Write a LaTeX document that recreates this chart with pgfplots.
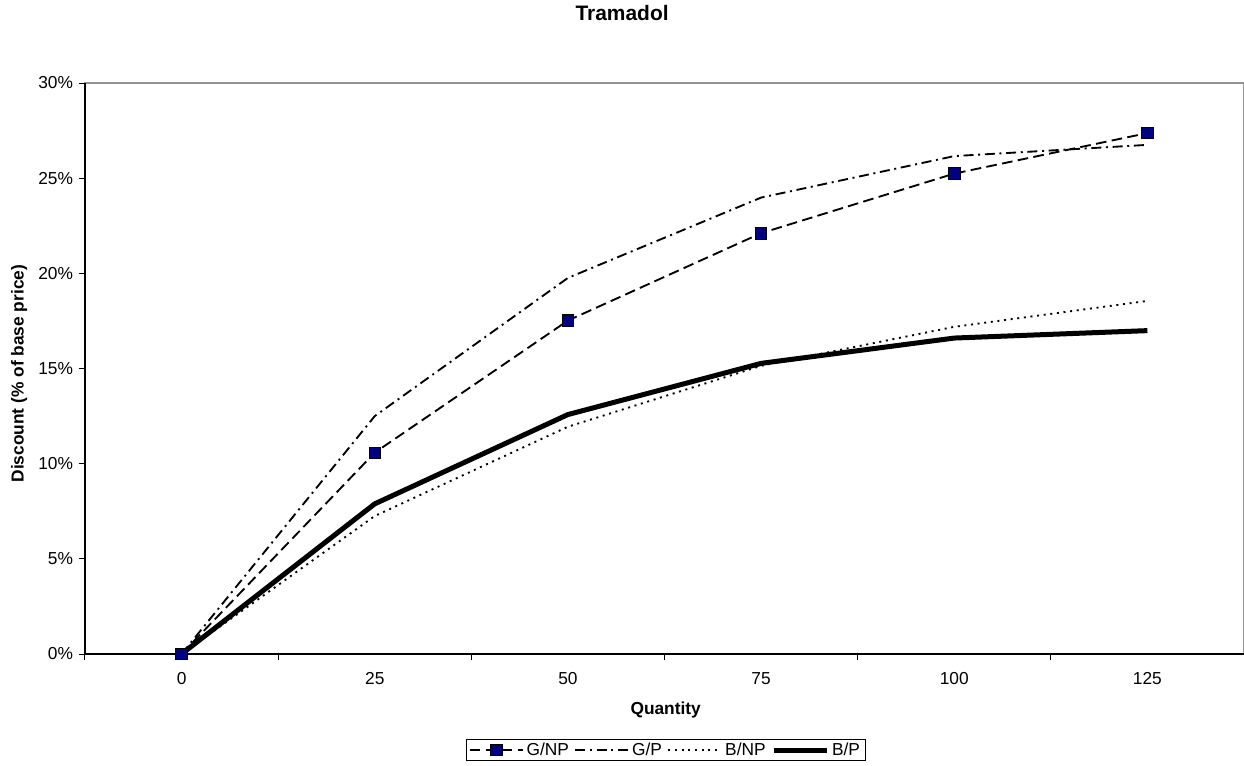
\documentclass[border=0pt]{standalone}
\usepackage{fontspec}
\setmainfont{Liberation Sans}
\usepackage{pgfplots}
\pgfplotsset{compat=1.18}
\definecolor{navyblue}{HTML}{000080}
\begin{document}
\begin{tikzpicture}[x=1pt,y=1pt]
\useasboundingbox (-63.75,-83.25) rectangle (869.25,490.5);
\begin{axis}[
  at={(0pt,0pt)}, anchor=south west,
  scale only axis, width=869.25pt, height=428.25pt,
  xmin=-0.5, xmax=5.5, ymin=0, ymax=30,
  clip=false,
  xtick={-0.5,0.5,1.5,2.5,3.5,4.5,5.5},
  xticklabels={},
  extra x ticks={0,1,2,3,4,5},
  extra x tick labels={0,25,50,75,100,125},
  extra x tick style={major tick length=0pt},
  ytick={0,5,10,15,20,25,30},
  yticklabels={0\%,5\%,10\%,15\%,20\%,25\%,30\%},
  tick align=outside, xtick pos=left, ytick pos=left,
  major tick length=4.5pt,
  every tick/.style={black, line width=0.75pt},
  axis line style={draw=gray!85, line width=0.9pt},
  tick label style={font=\fontsize{13}{15}\selectfont},
  xticklabel style={yshift=-10.5pt},
  yticklabel style={xshift=-1pt},
  title={Tramadol},
  title style={font=\bfseries\fontsize{15.7}{18}\selectfont, at={(axis description cs:0.4634,1.1086)}, anchor=center},
  xlabel={Quantity},
  xlabel style={font=\bfseries\fontsize{13}{15}\selectfont, at={(axis description cs:0.501,-0.0981)}, anchor=center},
  ylabel={Discount (\% of base price)},
  ylabel style={font=\bfseries\fontsize{13}{15}\selectfont, at={(axis description cs:-0.0569,0.491)}, anchor=center},
  legend style={at={(axis description cs:0.501,-0.1489)}, anchor=north, legend columns=4, draw=black, line width=0.75pt, fill=white, font=\fontsize{13}{15}\selectfont, inner xsep=2pt, inner ysep=1.5pt, nodes={inner ysep=1pt}, /tikz/every even column/.append style={column sep=2pt}},
  legend image code/.code={\draw[mark repeat=2,mark phase=2,#1] plot coordinates {(0pt,0pt) (20pt,0pt) (40pt,0pt)};},
]
\addplot[black, line width=1.4pt, dash pattern=on 8pt off 4pt, mark=square*, mark size=4.3pt, mark options={solid, fill=navyblue, draw=black, line width=0.6pt}]
  coordinates {(0,0) (1,10.58) (2,17.52) (3,22.11) (4,25.24) (5,27.37)};
\addlegendentry{G/NP}
\addplot[black, line width=1.4pt, dash pattern=on 7.5pt off 3.5pt on 1.5pt off 3.5pt, mark=none]
  coordinates {(0,0) (1,12.5) (2,19.76) (3,23.98) (4,26.16) (5,26.75)};
\addlegendentry{G/P}
\addplot[black, line width=1.4pt, dash pattern=on 1.5pt off 3.5pt, mark=none]
  coordinates {(0,0) (1,7.25) (2,11.94) (3,15.14) (4,17.19) (5,18.55)};
\addlegendentry{B/NP}
\addplot[black, line width=3.75pt, mark=none]
  coordinates {(0,0) (1,7.89) (2,12.58) (3,15.27) (4,16.6) (5,16.99)};
\addlegendentry{B/P}
\draw[black, line width=0.9pt] (rel axis cs:0,1) -- (rel axis cs:0,0) -- (rel axis cs:1,0);
\end{axis}
\end{tikzpicture}
\end{document}
